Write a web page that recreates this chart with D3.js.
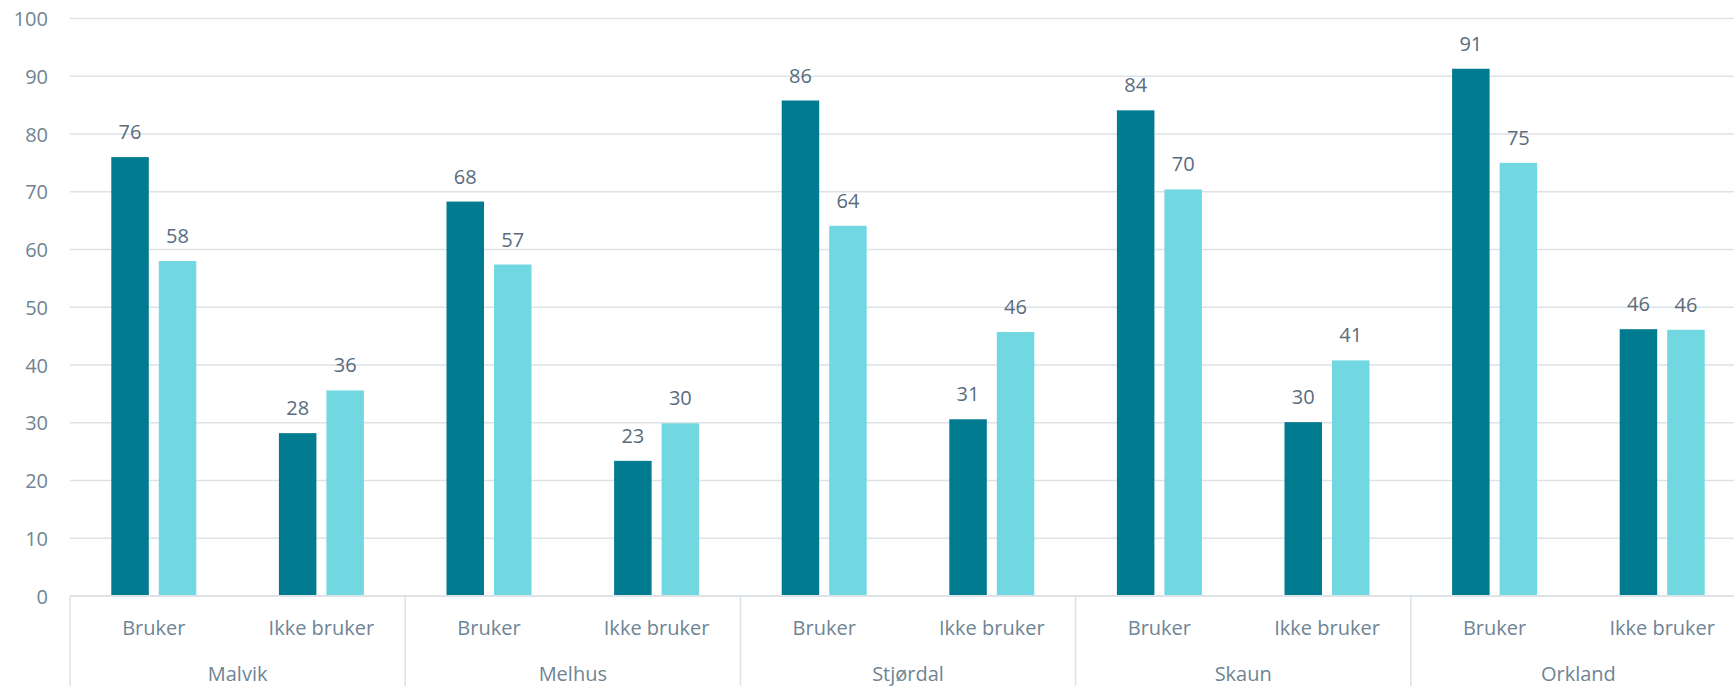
<!DOCTYPE html>
<html>
<head>
<meta charset="utf-8">
<script src="https://cdn.jsdelivr.net/npm/d3@7"></script>
<style>
  html, body { margin: 0; padding: 0; background: #ffffff; }
  svg { display: block; }
</style>
</head>
<body>
<svg id="chart" width="1734" height="686"></svg>
<script>
// ---- data ----
const groups = ["Malvik", "Melhus", "Stjørdal", "Skaun", "Orkland"];
const subcats = ["Bruker", "Ikke bruker"];
const seriesNames = ["Serie 1", "Serie 2"];
// values per group: [Bruker, Ikke bruker]
const series1 = [ // dark
  [76.0, 28.2],
  [68.3, 23.4],
  [85.8, 30.6],
  [84.1, 30.1],
  [91.3, 46.2]
];
const series2 = [ // light
  [58.0, 35.6],
  [57.4, 29.9],
  [64.1, 45.7],
  [70.4, 40.8],
  [75.0, 46.1]
];
const yTicks = [0, 10, 20, 30, 40, 50, 60, 70, 80, 90, 100];

// ---- layout ----
const svg = d3.select("#chart");
const W = 1734, H = 686;
const plotLeft = 70, plotRight = 1746, plotTop = 18.5, plotBottom = 596;
const colors = ["#017b90", "#71d7e1"];
const font = "'Open Sans', sans-serif";
const axisColor = "#6f8494";
const labelColor = "#596c7d";
const gridColor = "#dde2e7";

const x0 = d3.scaleBand().domain(groups).range([plotLeft, plotRight]).padding(0);
const x1 = d3.scaleBand().domain(subcats).range([0, x0.bandwidth()]).padding(0);
const halfPair = 42.5;
const x2 = d3.scaleBand().domain(seriesNames)
  .range([x1.bandwidth() / 2 - halfPair, x1.bandwidth() / 2 + halfPair])
  .paddingInner(0.2105).paddingOuter(0);
const y = d3.scaleLinear().domain([0, 100]).range([plotBottom, plotTop]);

// gridlines
svg.append("g").selectAll("line").data(yTicks.filter(d => d > 0)).join("line")
  .attr("x1", plotLeft).attr("x2", W)
  .attr("y1", d => y(d)).attr("y2", d => y(d))
  .attr("stroke", gridColor).attr("stroke-width", 1.5);

// y axis labels
const yAxis = d3.axisLeft(y).tickValues(yTicks).tickSize(0).tickPadding(0).tickFormat(d3.format("d"));
const yg = svg.append("g").attr("transform", `translate(${48},0)`).call(yAxis);
yg.select(".domain").remove();
yg.selectAll("text").attr("font-family", font).attr("font-size", 20)
  .attr("fill", axisColor).attr("dy", "0.35em");

// data
const rows = [];
groups.forEach((g, gi) => {
  subcats.forEach((s, si) => {
    rows.push({ g, s, ser: seriesNames[0], v: series1[gi][si], c: 0 });
    rows.push({ g, s, ser: seriesNames[1], v: series2[gi][si], c: 1 });
  });
});
const xPos = d => x0(d.g) + x1(d.s) + x2(d.ser);

svg.append("g").selectAll("rect").data(rows).join("rect")
  .attr("x", xPos)
  .attr("width", x2.bandwidth())
  .attr("y", d => y(d.v))
  .attr("height", d => y(0) - y(d.v))
  .attr("fill", d => colors[d.c]);

svg.append("g").selectAll("text").data(rows).join("text")
  .attr("x", d => xPos(d) + x2.bandwidth() / 2)
  .attr("y", d => y(d.v) - 18)
  .attr("text-anchor", "middle")
  .attr("font-family", font).attr("font-size", 20)
  .attr("fill", labelColor)
  .text(d => d3.format(".0f")(d.v));

// x axis baseline
svg.append("line").attr("x1", plotLeft).attr("x2", W)
  .attr("y1", plotBottom).attr("y2", plotBottom)
  .attr("stroke", gridColor).attr("stroke-width", 2);

// group dividers
const dividers = groups.map(g => x0(g)).concat([x0.range()[1]]);
svg.append("g").selectAll("line").data(dividers).join("line")
  .attr("x1", d => d).attr("x2", d => d)
  .attr("y1", plotBottom).attr("y2", H)
  .attr("stroke", gridColor).attr("stroke-width", 1.5);

// subcategory labels
const subRows = [];
groups.forEach(g => subcats.forEach(s => subRows.push({ g, s })));
svg.append("g").selectAll("text").data(subRows).join("text")
  .attr("x", d => x0(d.g) + x1(d.s) + x1.bandwidth() / 2)
  .attr("y", 635)
  .attr("text-anchor", "middle")
  .attr("font-family", font).attr("font-size", 20)
  .attr("fill", axisColor)
  .text(d => d.s);

// group labels
svg.append("g").selectAll("text").data(groups).join("text")
  .attr("x", d => x0(d) + x0.bandwidth() / 2)
  .attr("y", 681)
  .attr("text-anchor", "middle")
  .attr("font-family", font).attr("font-size", 20)
  .attr("fill", axisColor)
  .text(d => d);
</script>
</body>
</html>
